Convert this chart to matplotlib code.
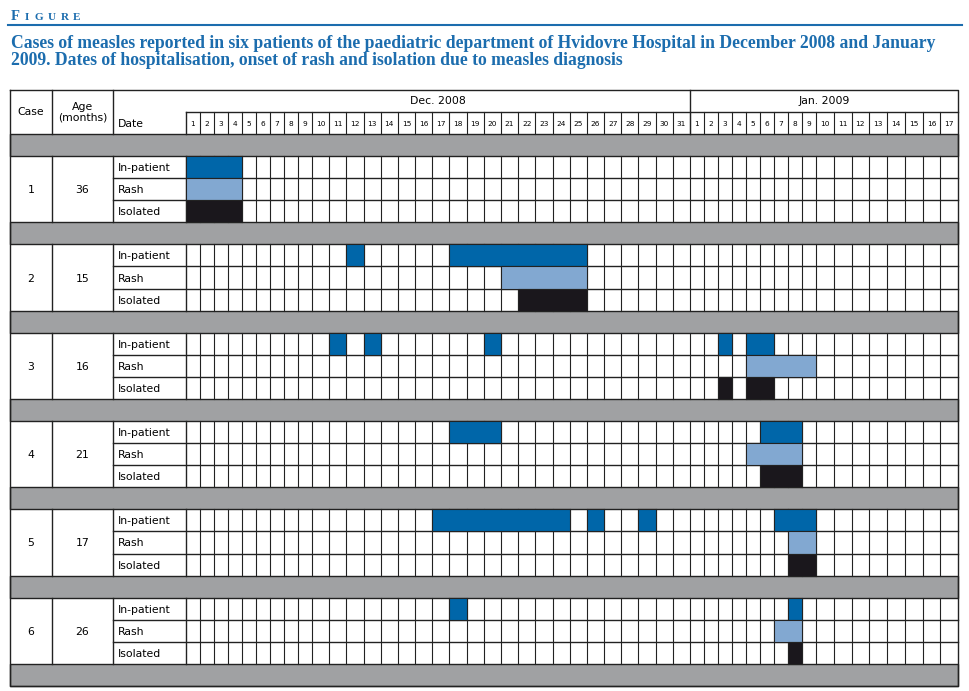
import matplotlib.pyplot as plt
import numpy as np

# Measles cases, paediatric dept. Hvidovre Hospital, Dec 2008 - Jan 2009
case_ids = [1, 2, 3, 4, 5, 6]
ages = [36, 15, 16, 21, 17, 26]
row_labels = ["In-patient", "Rash", "Isolated"]
months = ["Dec. 2008", "Jan. 2009"]
dec_days = list(range(1, 32))
jan_days = list(range(1, 18))

# spans per case: (month, first day, last day)
inpatient = [
    [("Dec", 1, 4)],
    [("Dec", 12, 12), ("Dec", 18, 25)],
    [("Dec", 11, 11), ("Dec", 13, 13), ("Dec", 20, 20), ("Jan", 3, 3), ("Jan", 5, 6)],
    [("Dec", 18, 20), ("Jan", 6, 8)],
    [("Dec", 17, 24), ("Dec", 26, 26), ("Dec", 29, 29), ("Jan", 7, 9)],
    [("Dec", 18, 18), ("Jan", 8, 8)],
]
rash = [
    [("Dec", 1, 4)],
    [("Dec", 21, 25)],
    [("Jan", 5, 9)],
    [("Jan", 5, 8)],
    [("Jan", 8, 9)],
    [("Jan", 7, 8)],
]
isolated = [
    [("Dec", 1, 4)],
    [("Dec", 22, 25)],
    [("Jan", 3, 3), ("Jan", 5, 6)],
    [("Jan", 6, 8)],
    [("Jan", 8, 9)],
    [("Jan", 8, 8)],
]

c_in = "#0066a9"
c_rash = "#82a8d1"
c_iso = "#1a171c"
c_gray = "#a0a1a3"
c_line = "#222222"
c_blue = "#1c6dae"

fig = plt.figure(figsize=(9.7, 6.91), dpi=100)
ax = fig.add_axes([0, 0, 1, 1])
ax.set_xlim(0, 970)
ax.set_ylim(691, 0)
ax.axis("off")

# column edges (one-digit days are narrower than two-digit ones)
x_left, x_case, x_age, x_lab, x_jan, x_right = 10, 52, 113, 186, 690, 958
w1 = 14.0


def month_widths(days, x0, x1):
    n1 = sum(1 for d in days if d < 10)
    w2 = (x1 - x0 - n1 * w1) / (len(days) - n1)
    return [w1 if d < 10 else w2 for d in days]


all_days = dec_days + jan_days
widths = month_widths(dec_days, x_lab, x_jan) + month_widths(jan_days, x_jan, x_right)
edges = x_lab + np.concatenate([[0], np.cumsum(widths)])


def col_index(month, day):
    return (day - 1) if month == "Dec" else len(dec_days) + day - 1


# vertical layout
y_top, y_mid, y_head = 90, 112, 134
unit = (686 - y_head) / 25.0

# header
lw = 1.0
ax.plot([x_left, x_right, x_right, x_left, x_left], [y_top, y_top, 686, 686, y_top], color=c_line, lw=lw)
ax.plot([x_lab, x_right], [y_mid, y_mid], color=c_line, lw=lw)
for x in [x_case, x_age]:
    ax.plot([x, x], [y_top, y_head], color=c_line, lw=lw)
ax.plot([x_lab, x_lab], [y_mid, y_head], color=c_line, lw=lw)
ax.plot([x_jan, x_jan], [y_top, y_head], color=c_line, lw=lw)
for e in edges[1:-1]:
    ax.plot([e, e], [y_mid, y_head], color=c_line, lw=0.8)
ax.text((x_left + x_case) / 2, (y_top + y_head) / 2, "Case", ha="center", va="center", fontsize=7.8)
ax.text((x_case + x_age) / 2, (y_top + y_head) / 2, "Age\n(months)", ha="center", va="center",
        fontsize=7.8, linespacing=1.1)
ax.text(x_age + 5, (y_mid + y_head) / 2 + 1, "Date", ha="left", va="center", fontsize=7.8)
ax.text((x_lab + x_jan) / 2, (y_top + y_mid) / 2, months[0], ha="center", va="center", fontsize=7.8)
ax.text((x_jan + x_right) / 2, (y_top + y_mid) / 2, months[1], ha="center", va="center", fontsize=7.8)
for i, d in enumerate(all_days):
    ax.text((edges[i] + edges[i + 1]) / 2, (y_mid + y_head) / 2 + 1, str(d), ha="center", va="center",
            fontsize=5.3)

# body
y = y_head
for k in range(len(case_ids)):
    ax.broken_barh([(x_left, x_right - x_left)], (y, unit), facecolors=c_gray, edgecolor=c_line, lw=lw)
    y += unit
    g_top = y
    for r, spans in enumerate([inpatient[k], rash[k], isolated[k]]):
        ry = g_top + r * unit
        color = [c_in, c_rash, c_iso][r]
        bars = [(edges[col_index(m, a)], edges[col_index(m, b) + 1] - edges[col_index(m, a)])
                for m, a, b in spans]
        ax.broken_barh(bars, (ry, unit), facecolors=color, edgecolor=c_line, lw=0.8, zorder=3)
        ax.text(x_age + 5, ry + unit / 2 + 1, row_labels[r], ha="left", va="center", fontsize=7.8)
        if r > 0:
            ax.plot([x_age, x_right], [ry, ry], color=c_line, lw=lw, zorder=2)
    g_bot = g_top + 3 * unit
    for x in [x_case, x_age, x_lab]:
        ax.plot([x, x], [g_top, g_bot], color=c_line, lw=lw)
    for e in edges[1:-1]:
        ax.plot([e, e], [g_top, g_bot], color=c_line, lw=0.8, zorder=2)
    ax.text((x_left + x_case) / 2, (g_top + g_bot) / 2 + 1, str(case_ids[k]), ha="center", va="center",
            fontsize=7.8)
    ax.text((x_case + x_age) / 2, (g_top + g_bot) / 2 + 1, str(ages[k]), ha="center", va="center",
            fontsize=7.8)
    y = g_bot
ax.broken_barh([(x_left, x_right - x_left)], (y, unit), facecolors=c_gray, edgecolor=c_line, lw=lw)

# figure heading, small caps
for ch, fx in zip("FIGURE", [11, 25, 35, 48, 61, 73]):
    size = 10.5 if ch == "F" else 8
    ax.text(fx, 20, ch, ha="left", va="baseline", fontsize=size, color=c_blue,
            family="Liberation Serif", weight="bold")
ax.plot([8, 962], [25, 25], color=c_blue, lw=1.5)
ax.text(11, 48, "Cases of measles reported in six patients of the paediatric department of Hvidovre Hospital "
                "in December 2008 and January", ha="left", va="baseline", fontsize=12.7,
        color=c_blue, family="Liberation Serif", weight="bold")
ax.text(11, 65, "2009. Dates of hospitalisation, onset of rash and isolation due to measles diagnosis",
        ha="left", va="baseline", fontsize=12.7, color=c_blue, family="Liberation Serif", weight="bold")

fig.savefig("out.png", dpi=100)
